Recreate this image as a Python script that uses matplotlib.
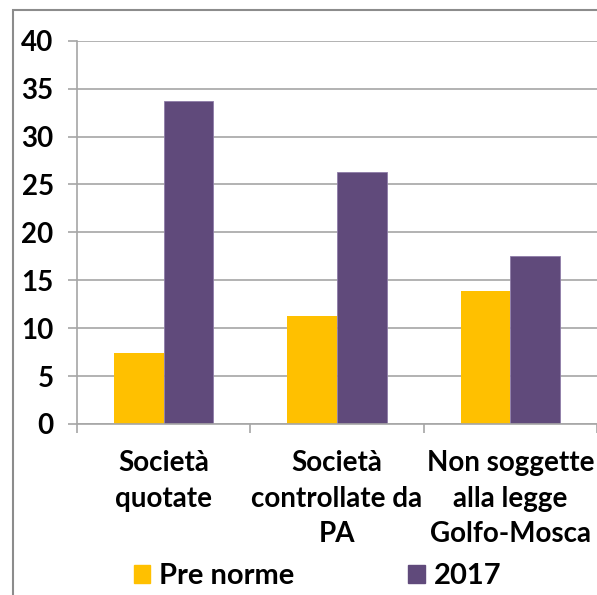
import numpy as np
import matplotlib.pyplot as plt
import matplotlib as mpl
from matplotlib.patches import Rectangle, Patch

plt.rcParams['font.family'] = ['Lato', 'DejaVu Sans']
plt.rcParams['font.weight'] = 'bold'

categories = ['Società\nquotate', 'Società\ncontrollate da\nPA', 'Non soggette\nalla legge\nGolfo-Mosca']
pre_norme = [7.4, 11.3, 13.9]
anno_2017 = [33.7, 26.3, 17.5]
series_labels = ['Pre norme', '2017']
yticks = [0, 5, 10, 15, 20, 25, 30, 35, 40]

yellow = '#FFC000'
purple = '#604A7B'
grey = '#A6A6A6'
fs = 20

fig = plt.figure(figsize=(5.97, 5.95), dpi=100)
ax = fig.add_axes([0.129, 0.2874, 0.871, 0.6442])

x = np.arange(len(categories)) + 0.5
w = 0.286
ax.bar(x - w / 2, pre_norme, w, color=yellow, label=series_labels[0])
ax.bar(x + w / 2, anno_2017, w, color=purple, edgecolor='#8E7CA8', linewidth=0.6,
       label=series_labels[1])

ax.set_xlim(0, 3)
ax.set_ylim(0, 40)
ax.set_yticks(yticks)
ax.yaxis.grid(True, color=grey, linewidth=1.2)
ax.set_axisbelow(True)

# ticks on the category boundaries, labels centred under each group
ax.set_xticks([0, 1, 2, 3])
ax.set_xticklabels([])
ax.set_xticks(x, minor=True)
ax.set_xticklabels(categories, minor=True, fontsize=fs, linespacing=1.45)
ax.tick_params(axis='x', which='major', length=6.8, width=1.2, color=grey, direction='out')
ax.tick_params(axis='x', which='minor', length=0, pad=19)
ax.tick_params(axis='y', length=6.8, width=1.2, color=grey, labelsize=fs, pad=10)

for s in ['top', 'right']:
    ax.spines[s].set_visible(False)
for s in ['left', 'bottom']:
    ax.spines[s].set_color(grey)
    ax.spines[s].set_linewidth(1.2)

# outer chart frame (cut off on the right and bottom)
fig.patches.append(Rectangle((13 / 597, -0.05), 1.1, 1.05 - 10 / 595,
                             transform=fig.transFigure, fill=False,
                             edgecolor='#8C8C8C', linewidth=1.5))

handles = [Patch(color=yellow), Patch(color=purple)]
fig.legend(handles, series_labels, ncol=2, loc='center left',
           bbox_to_anchor=(119 / 597, 1 - 576 / 595), frameon=False, fontsize=21,
           borderpad=0, handlelength=0.57, handleheight=0.57, handletextpad=0.31,
           columnspacing=3.9)

plt.savefig('out.png', dpi=100)
